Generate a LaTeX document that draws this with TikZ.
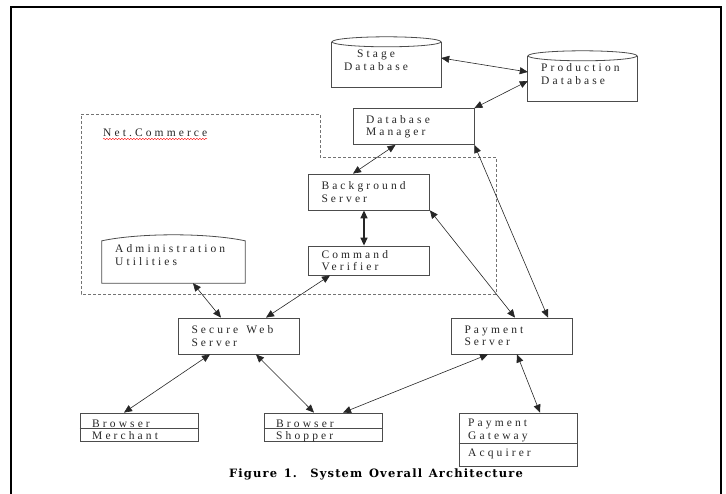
\documentclass[tikz,border=0pt]{standalone}
\usepackage{fontspec}
\usetikzlibrary{arrows.meta,decorations.pathmorphing}
\newfontfamily\boxfont[LetterSpace=27]{Liberation Serif}
\newfontfamily\capfont[LetterSpace=10,WordSpace=1.3]{DejaVu Serif}
\begin{document}
\begin{tikzpicture}[x=1pt,y=-1pt,
  >={Triangle[length=8pt,width=7pt]},
  box/.style={draw=black!70, line width=0.8pt, font=\boxfont\fontsize{11.5pt}{12.5pt}\selectfont, text=black!85,
    text width=95pt, inner xsep=13pt, inner ysep=0pt, align=left, minimum height=36pt},
  holder/.style={draw=none, inner sep=0pt},
  outline/.style={draw=black!70, line width=0.8pt},
  lbl/.style={font=\boxfont\fontsize{11.5pt}{12.5pt}\selectfont, text=black!85, inner sep=0pt, anchor=base west},
  dbtxt/.style={font=\boxfont\fontsize{11.5pt}{13pt}\selectfont, text=black!85, inner sep=0pt},
  link/.style={<->, line width=0.6pt, draw=black!85},
  region/.style={draw=black!55, line width=0.8pt, dash pattern=on 3pt off 2pt}]
\useasboundingbox (0,0) rectangle (726,493);
\draw[line width=2.2pt] (11,494) -- (11,7) -- (721,7) -- (721,494);
\draw[region] (81,114) -- (320,114) -- (320,157) -- (496,157) -- (496,294) -- (81,294) -- cycle;
\node[lbl] (netc) at (103,136) {Net.Commerce};
\draw[red, line width=0.4pt, decorate, decoration={snake, amplitude=0.7pt, segment length=3pt}]
  ([yshift=-3pt]netc.base west) -- ([yshift=-3pt]netc.base east);

\node[holder, minimum width=109pt, minimum height=45pt] (stage) at (386.5,64.5) {};
\draw[outline] (stage.north west) -- (stage.south west) -- (stage.south east) -- (stage.north east);
\draw[outline] (stage.north) ellipse [x radius=54.5pt, y radius=5pt];
\node[dbtxt, align=center] (stagetxt) at (376,60) {Stage\\Database};

\node[holder, minimum width=109pt, minimum height=45pt] (prod) at (582.5,78.5) {};
\draw[outline] (prod.north west) -- (prod.south west) -- (prod.south east) -- (prod.north east);
\draw[outline] (prod.north) ellipse [x radius=54.5pt, y radius=5pt];
\node[dbtxt, align=left, anchor=west] (prodtxt) at (541,74.5) {Production\\Database};

\node[holder, minimum width=143pt, minimum height=42pt] (admin) at (173.5,262) {};
\draw[outline] (admin.south west) -- (admin.north west)
  .. controls ([xshift=38pt,yshift=8pt]admin.north west) and ([xshift=-38pt,yshift=8pt]admin.north east) .. (admin.north east)
  -- (admin.south east) -- cycle;
\node[dbtxt, align=left, anchor=west] (admintxt) at (115,255.5) {Administration\\Utilities};

\node[box] (dbm) at (413.5,126.5) {Database\\Manager};
\node[box] (bgs) at (369,192) {Background\\Server};
\node[box, minimum height=29pt] (cmd) at (369,260.5) {Command\\Verifier};
\node[box] (sws) at (239,336) {Secure\hspace{8pt}Web\\Server};
\node[box] (pay) at (512,336) {Payment\\Server};

\node[outline, minimum width=118pt, minimum height=28pt] (merch) at (139,427) {};
\draw[outline] ([yshift=-1pt]merch.west) -- ([yshift=-1pt]merch.east);
\node[lbl] (merch1) at (92,427) {Browser};
\node[lbl] (merch2) at (92,439) {Merchant};

\node[outline, minimum width=118pt, minimum height=28pt] (shop) at (323,427) {};
\draw[outline] ([yshift=-1pt]shop.west) -- ([yshift=-1pt]shop.east);
\node[lbl] (shop1) at (276,427) {Browser};
\node[lbl] (shop2) at (276,439) {Shopper};

\node[outline, minimum width=118pt, minimum height=53pt] (gate) at (518,439.5) {};
\draw[outline] ([yshift=-3.5pt]gate.west) -- ([yshift=-3.5pt]gate.east);
\node[lbl] (gate1) at (468,426) {Payment};
\node[lbl] (gate2) at (468,439) {Gateway};
\node[lbl] (gate3) at (468,456) {Acquirer};

\draw[link] ([yshift=6.5pt]stage.east) -- ([yshift=6.5pt]prod.west);
\draw[link] (dbm.north east) -- ([yshift=-2.5pt]prod.west);
\draw[link] ([xshift=-18pt]dbm.south) -- ([xshift=-16pt]bgs.north);
\draw[link, line width=1.4pt] ([xshift=-5pt]bgs.south) -- ([xshift=-5pt]cmd.north);
\draw[link] ([xshift=19.5pt]admin.south) -- ([xshift=-18pt]sws.north);
\draw[link] ([xshift=-39pt]cmd.south) -- ([xshift=27pt]sws.north);
\draw[link] (bgs.south east) -- ([xshift=3pt]pay.north);
\draw[link] (dbm.south east) -- ([xshift=36pt]pay.north);
\draw[link] ([xshift=-29pt]sws.south) -- ([xshift=-15pt]merch.north);
\draw[link] ([xshift=17pt]sws.south) -- ([xshift=-9pt]shop.north);
\draw[link] ([xshift=-24pt]pay.south) -- ([xshift=20pt]shop.north);
\draw[link] ([xshift=5pt]pay.south) -- ([xshift=22pt]gate.north);

\node[font=\capfont\bfseries\fontsize{11.5pt}{13pt}\selectfont] (caption) at (376,474) {Figure 1.\ \ System Overall Architecture};
\end{tikzpicture}
\end{document}
